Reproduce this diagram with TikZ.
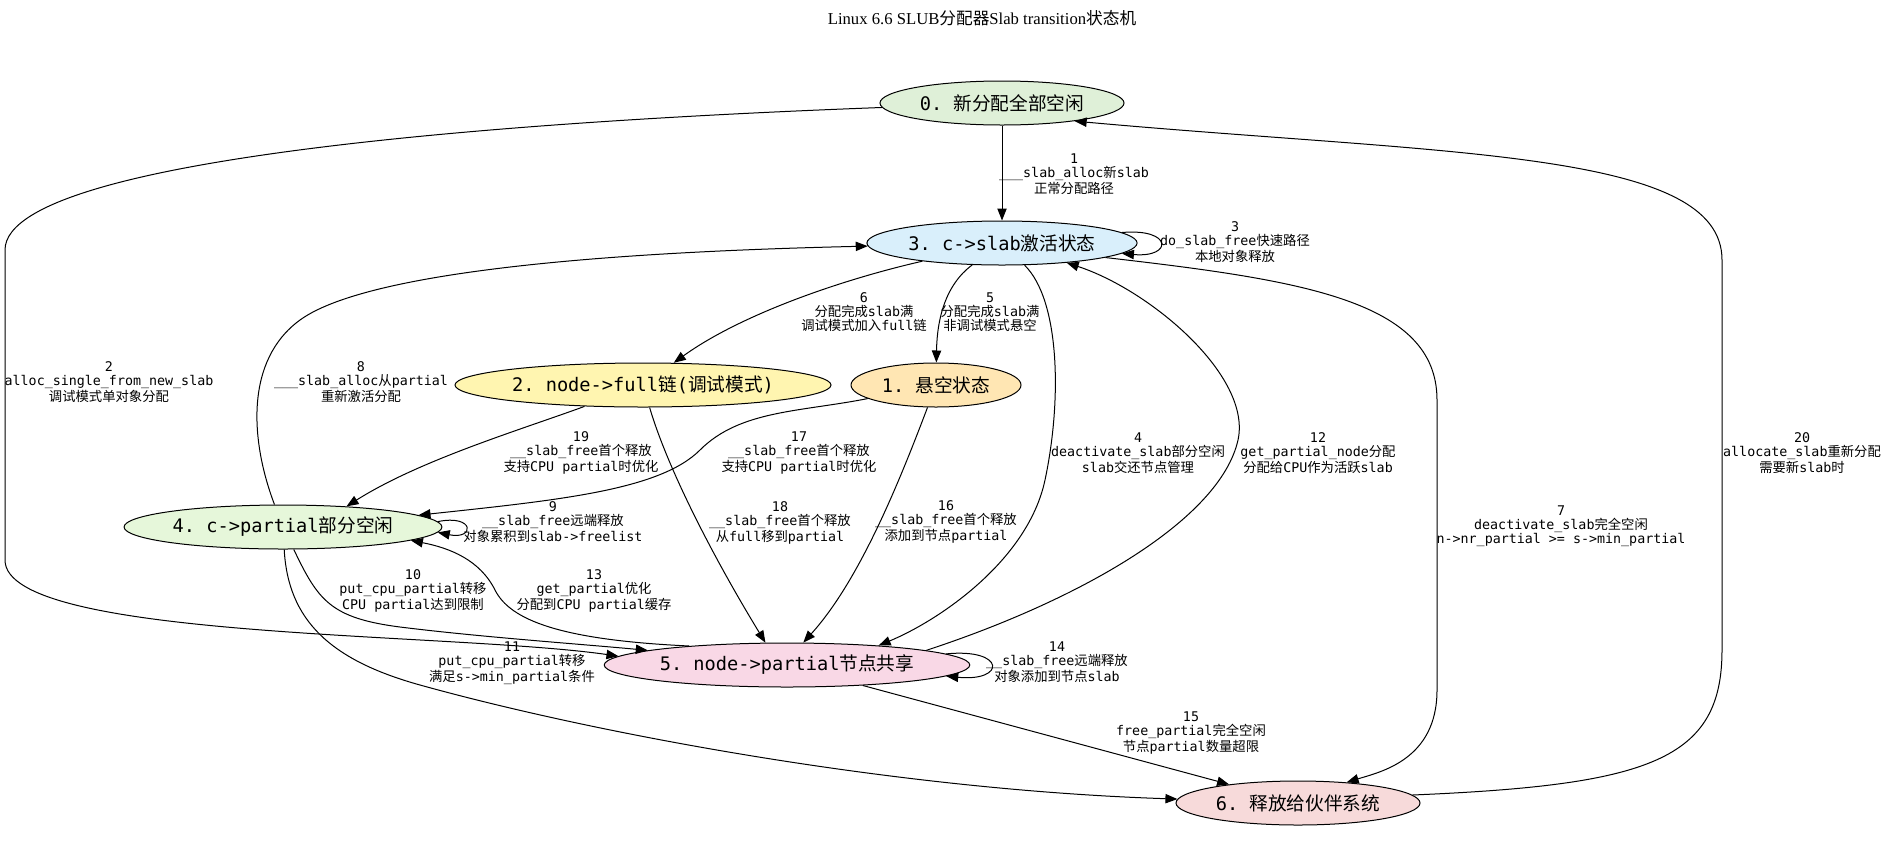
\documentclass[tikz,border=0pt]{standalone}
\usepackage{fontspec}
\usepackage{tikz}
\usetikzlibrary{shapes.geometric,arrows.meta}
\setmainfont{DejaVu Sans Mono}
\newfontfamily\cjkfont{Noto Sans CJK SC}
\newfontfamily\titlefont{Liberation Serif}
\newcommand{\zh}[1]{{\cjkfont #1}}
\frenchspacing
\definecolor{fillzero}{RGB}{223,240,216}
\definecolor{fillone}{RGB}{255,230,179}
\definecolor{filltwo}{RGB}{255,245,176}
\definecolor{fillthree}{RGB}{217,239,251}
\definecolor{fillfour}{RGB}{230,247,218}
\definecolor{fillfive}{RGB}{249,216,230}
\definecolor{fillsix}{RGB}{247,218,218}
\tikzstyle{state}=[ellipse,draw,line width=0.75pt,minimum height=33pt,inner sep=1.5pt,font=\fontsize{14}{16}\selectfont]
\tikzstyle{elabel}=[align=center,inner sep=0pt,font=\fontsize{10}{10.5}\selectfont]
\tikzstyle{arr}=[-{Triangle[length=9pt,width=7pt]},line width=0.75pt]

\begin{document}
\begin{tikzpicture}[x=0.75pt,y=-0.75pt]
\useasboundingbox (0,0) rectangle (1897,850);
\node[font=\titlefont\fontsize{12.5}{15}\selectfont] at (982, 18) (title) {Linux 6.6 SLUB\zh{分配器}Slab transition\zh{状态机}};

\node[state, fill=fillzero, minimum width=183pt] at (1002, 103) (n0) {0. \zh{新分配全部空闲}};
\node[state, fill=fillthree, minimum width=201pt] at (1002, 243) (n3) {3. c->slab\zh{激活状态}};
\node[state, fill=filltwo, minimum width=276pt] at (643, 385) (n2) {2. node->full\zh{链}(\zh{调试模式})};
\node[state, fill=fillone, minimum width=127.5pt] at (936, 385) (n1) {1. \zh{悬空状态}};
\node[state, fill=fillfour, minimum width=235pt] at (283, 527) (n4) {4. c->partial\zh{部分空闲}};
\node[state, fill=fillfive, minimum width=270pt] at (787, 665) (n5) {5. node->partial\zh{节点共享}};
\node[state, fill=fillsix, minimum width=183pt] at (1298, 803) (n6) {6. \zh{释放给伙伴系统}};

\draw[arr] (n0) -- (n3);
\node[elabel] at (1074, 174) (l1) {1\\\_\_\_slab\_alloc\zh{新}slab\\\zh{正常分配路径}};
\draw[arr] (n0) .. controls (600, 118) and (5, 150) .. (5, 250) -- (5, 560) .. controls (5, 640) and (450, 632) .. (n5.177);
\node[elabel] at (109, 382) (l2) {2\\alloc\_single\_from\_new\_slab\\\zh{调试模式单对象分配}};
\draw[arr] (n3.5) .. controls (1173, 228) and (1173, 258) .. (n3.-5);
\node[elabel] at (1235, 242) (l3) {3\\do\_slab\_free\zh{快速路径}\\\zh{本地对象释放}};
\draw[arr] (n3) .. controls (1060, 300) and (1062, 400) .. (1045, 480) .. controls (1028, 560) and (940, 620) .. (n5.12);
\node[elabel] at (1138, 453) (l4) {4\\deactivate\_slab\zh{部分空闲}\\slab\zh{交还节点管理}};
\draw[arr] (n3) .. controls (945, 285) and (937, 320) .. (n1);
\node[elabel] at (990, 312) (l5) {5\\\zh{分配完成}slab\zh{满}\\\zh{非调试模式悬空}};
\draw[arr] (n3) .. controls (840, 280) and (740, 315) .. (n2);
\node[elabel] at (864, 312) (l6) {6\\\zh{分配完成}slab\zh{满}\\\zh{调试模式加入}full\zh{链}};
\draw[arr] (n3.-8) .. controls (1300, 280) and (1437, 300) .. (1437, 400) -- (1437, 690) .. controls (1437, 760) and (1380, 772) .. (n6.23);
\node[elabel] at (1561, 526) (l7) {7\\deactivate\_slab\zh{完全空闲}\\n->nr\_partial >= s->min\_partial};
\draw[arr] (n4) .. controls (250, 440) and (245, 360) .. (300, 320) .. controls (380, 262) and (700, 250) .. (n3);
\node[elabel] at (361, 382) (l8) {8\\\_\_\_slab\_alloc\zh{从}partial\\\zh{重新激活分配}};
\draw[arr] (n4.2) .. controls (475, 514) and (475, 540) .. (n4.-2);
\node[elabel] at (553, 522) (l9) {9\\\_\_slab\_free\zh{远端释放}\\\zh{对象累积到}slab->freelist};
\draw[arr] (n4) .. controls (318, 600) and (330, 618) .. (400, 627) .. controls (480, 637) and (580, 644) .. (n5.174);
\node[elabel] at (413, 591) (l10) {10\\put\_cpu\_partial\zh{转移}\\CPU partial\zh{达到限制}};
\draw[arr] (n4) .. controls (288, 620) and (330, 660) .. (420, 685) .. controls (600, 735) and (900, 790) .. (n6);
\node[elabel] at (512, 663) (l11) {11\\put\_cpu\_partial\zh{转移}\\\zh{满足}s->min\_partial\zh{条件}};
\draw[arr] (n5.6) .. controls (1080, 600) and (1220, 520) .. (1238, 440) .. controls (1252, 376) and (1150, 290) .. (n3.-17);
\node[elabel] at (1318, 453) (l12) {12\\get\_partial\_node\zh{分配}\\\zh{分配给}CPU\zh{作为活跃}slab};
\draw[arr] (n5.169) .. controls (560, 640) and (510, 620) .. (495, 590) .. controls (480, 560) and (450, 548) .. (n4.-6);
\node[elabel] at (594, 591) (l13) {13\\get\_partial\zh{优化}\\\zh{分配到}CPU partial\zh{缓存}};
\draw[arr] (n5.4) .. controls (1006, 648) and (1006, 682) .. (n5.-4);
\node[elabel] at (1057, 662) (l14) {14\\\_\_slab\_free\zh{远端释放}\\\zh{对象添加到节点}slab};
\draw[arr] (n5) -- (n6);
\node[elabel] at (1191, 733) (l15) {15\\free\_partial\zh{完全空闲}\\\zh{节点}partial\zh{数量超限}};
\draw[arr] (n1) .. controls (900, 480) and (860, 580) .. (n5.54);
\node[elabel] at (946, 522) (l16) {16\\\_\_slab\_free\zh{首个释放}\\\zh{添加到节点}partial};
\draw[arr] (n1) .. controls (800, 412) and (740, 410) .. (700, 450) .. controls (660, 490) and (560, 500) .. (n4.5);
\node[elabel] at (799, 453) (l17) {17\\\_\_slab\_free\zh{首个释放}\\\zh{支持}CPU partial\zh{时优化}};
\draw[arr] (n2) .. controls (668, 470) and (715, 560) .. (n5.134);
\node[elabel] at (780, 523) (l18) {18\\\_\_slab\_free\zh{首个释放}\\\zh{从}full\zh{移到}partial};
\draw[arr] (n2) .. controls (520, 430) and (420, 460) .. (n4.18);
\node[elabel] at (581, 453) (l19) {19\\\_\_slab\_free\zh{首个释放}\\\zh{支持}CPU partial\zh{时优化}};
\draw[arr] (n6.4) .. controls (1650, 785) and (1722, 760) .. (1722, 650) -- (1722, 260) .. controls (1722, 150) and (1450, 155) .. (n0.-14);
\node[elabel] at (1802, 453) (l20) {20\\allocate\_slab\zh{重新分配}\\\zh{需要新}slab\zh{时}};
\end{tikzpicture}
\end{document}
